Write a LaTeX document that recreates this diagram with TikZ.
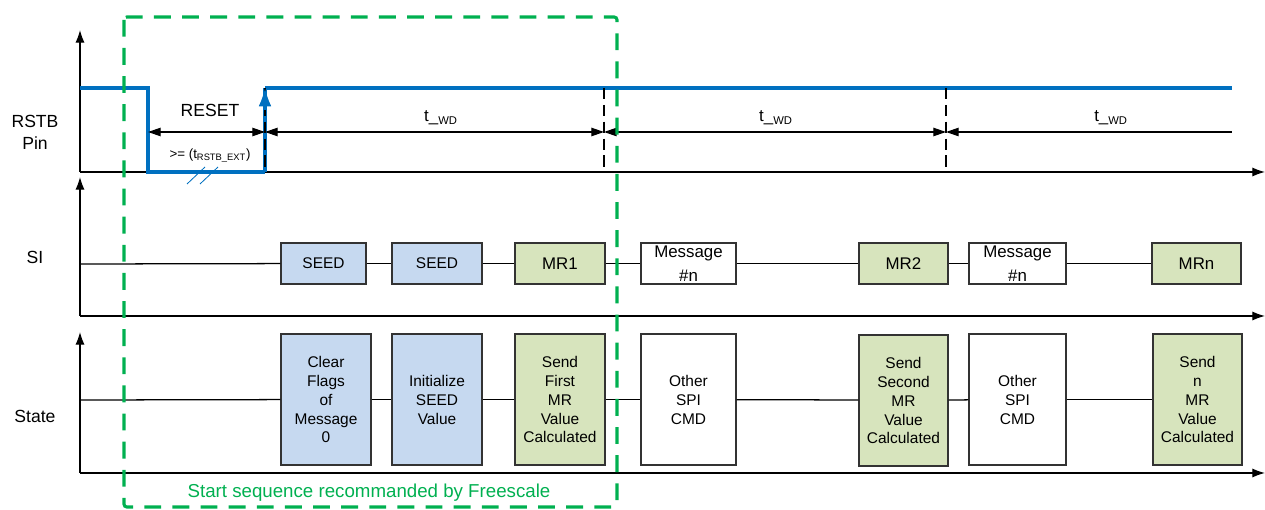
\documentclass[tikz,border=0pt]{standalone}
\usepackage{fontspec}
\setmainfont{Liberation Sans}
\usetikzlibrary{arrows.meta}
\definecolor{sigblue}{RGB}{0,112,192}
\definecolor{seqgreen}{RGB}{0,176,80}
\definecolor{seedfill}{RGB}{198,217,240}
\definecolor{mrfill}{RGB}{215,228,189}

\begin{document}
\begin{tikzpicture}[x=0.025cm, y=-0.025cm,
axis/.style={line width=0.9pt, -{Latex[length=9pt,width=6.5pt]}},
trace/.style={line width=0.9pt},
signal/.style={sigblue, line width=2.2pt},
marker/.style={line width=1.3pt, dash pattern=on 8pt off 4pt},
dimline/.style={line width=0.9pt, {Triangle[length=9pt,width=6pt]}-{Triangle[length=9pt,width=6pt]}},
sibox/.style={rectangle, draw=black!80, line width=0.8pt, inner sep=0pt, minimum height=1.025cm, minimum width=#1, align=center, font=\fontsize{12}{17}\selectfont},
statebox/.style={rectangle, draw=black!80, line width=0.8pt, inner sep=0pt, minimum height=3.275cm, minimum width=#1, align=center, font=\fontsize{11}{13.5}\selectfont},
lbl/.style={font=\fontsize{12.5}{15.5}\selectfont, align=center},
wdlbl/.style={font=\fontsize{12}{14}\selectfont},
]
\useasboundingbox (0,0) rectangle (1265,510);

%Axes
\coordinate (rstbO)   at (80,172);
\coordinate (rstbTop) at (80,30);
\coordinate (rstbEnd) at (1265,172);
\coordinate (siO)     at (80,316);
\coordinate (siTop)   at (80,177);
\coordinate (siEnd)   at (1265,316);
\coordinate (siLine)  at (80,264);
\coordinate (stO)     at (80,473);
\coordinate (stTop)   at (80,332);
\coordinate (stEnd)   at (1265,473);
\coordinate (stLine)  at (80,400);
\draw[axis] (rstbO) -- (rstbTop);
\draw[axis] (rstbO) -- (rstbEnd);
\draw[axis] (siO) -- (siTop);
\draw[axis] (siO) -- (siEnd);
\draw[axis] (stO) -- (stTop);
\draw[axis] (stO) -- (stEnd);

%Labels
\node[lbl] (rstblabel)  at (35,132) {RSTB\\Pin};
\node[lbl] (silabel)    at (35,257) {SI};
\node[lbl] (statelabel) at (35,416) {State};

%RSTB signal
\coordinate (hi0)   at (80,88);
\coordinate (fall)  at (148,88);
\coordinate (rise)  at (265,88);
\coordinate (wd1)   at (604,88);
\coordinate (wd2)   at (946,88);
\coordinate (hiEnd) at (1232,88);
\coordinate (dimy)  at (0,132);
\draw[signal] (hi0) -- (fall) -- (fall |- rstbO) -- (rise |- rstbO);
\draw[signal] (rise |- rstbO) -- (rise);
\draw[signal] (rise) -- (hiEnd);
\draw[marker] (rise) -- (rise |- rstbO);
\draw[marker] (wd1) -- (wd1 |- rstbO);
\draw[marker] (wd2) -- (wd2 |- rstbO);
\draw[sigblue, line width=1.2pt, -{Latex[length=13pt,width=9pt]}] (265,110) -- (rise);
\draw[sigblue, line width=0.6pt] (187,184) -- (205,167);
\draw[sigblue, line width=0.6pt] (200,184) -- (218,167);

%Durations
\draw[dimline] (fall |- dimy) -- (rise |- dimy);
\draw[dimline] (rise |- dimy) -- (wd1 |- dimy);
\draw[dimline] (wd1 |- dimy) -- (wd2 |- dimy);
\draw[line width=0.9pt, {Triangle[length=9pt,width=6pt]}-] (wd2 |- dimy) -- (hiEnd |- dimy);
\node[lbl] (resetlabel) at (210,110) {RESET};
\node[font=\fontsize{9.5}{11}\selectfont] (extlabel) at (210,156) {>= (t\textsubscript{RSTB\_EXT})};
\node[wdlbl] (wdlabel1) at (441,118) {t\_\textsubscript{WD}};
\node[wdlbl] (wdlabel2) at (776,118) {t\_\textsubscript{WD}};
\node[wdlbl] (wdlabel3) at (1111,118) {t\_\textsubscript{WD}};

%SI nodes
\node[sibox=2.125cm, fill=seedfill, font=\fontsize{11}{13}\selectfont] (seed1) at (323.5,263.5) {SEED};
\node[sibox=2.25cm, fill=seedfill, font=\fontsize{11}{13}\selectfont]  (seed2) at (437,263.5) {SEED};
\node[sibox=2.25cm, fill=mrfill]   (mr1)  at (560,263.5) {MR1};
\node[sibox=2.375cm, fill=white]   (msg1) at (688.5,263.5) {Message\\\#n};
\node[sibox=2.225cm, fill=mrfill]  (mr2)  at (903.5,263.5) {MR2};
\node[sibox=2.425cm, fill=white]   (msg2) at (1017.5,263.5) {Message\\\#n};
\node[sibox=2.225cm, fill=mrfill]  (mrn)  at (1196.5,263.5) {MRn};

%State nodes
\node[statebox=2.25cm, fill=seedfill]  (clear)      at (326,399.5) {Clear\\Flags\\of\\Message\\0};
\node[statebox=2.25cm, fill=seedfill]  (init)       at (437,399.5) {Initialize\\SEED\\Value};
\node[statebox=2.25cm, fill=mrfill]    (sendfirst)  at (560,399.5) {Send\\First\\MR\\Value\\Calculated};
\node[statebox=2.375cm, fill=white]    (other1)     at (688.5,399.5) {Other\\SPI\\CMD};
\node[statebox=2.225cm, fill=mrfill]   (sendsecond) at (903.5,400.5) {Send\\Second\\MR\\Value\\Calculated};
\node[statebox=2.425cm, fill=white]    (other2)     at (1017.5,399.5) {Other\\SPI\\CMD};
\node[statebox=2.225cm, fill=mrfill]   (sendn)      at (1197.5,399.5) {Send\\n\\MR\\Value\\Calculated};

%Lines
\draw[trace] (siLine) -- (seed1);
\draw[trace] (seed1) -- (seed2);
\draw[trace] (seed2) -- (mr1);
\draw[trace] (mr1) -- (msg1);
\draw[trace] (msg1) -- (mr2);
\draw[trace] (mr2) -- (msg2);
\draw[trace] (msg2) -- (mrn);
\draw[trace] (stLine) -- (clear);
\draw[trace] (clear) -- (init);
\draw[trace] (init) -- (sendfirst);
\draw[trace] (sendfirst) -- (other1);
\draw[trace] (other1) -- (sendsecond.west |- stLine);
\draw[trace] (sendsecond.east |- stLine) -- (other2);
\draw[trace] (other2) -- (sendn);

%Start sequence
\draw[seqgreen, line width=2.2pt, dash pattern=on 12pt off 8pt, rounded corners=2pt] (124,17) rectangle (617,507);
\node[seqgreen, font=\fontsize{13.3}{15}\selectfont] (seqlabel) at (369,493) {Start sequence recommanded by Freescale};
\end{tikzpicture}
\end{document}
